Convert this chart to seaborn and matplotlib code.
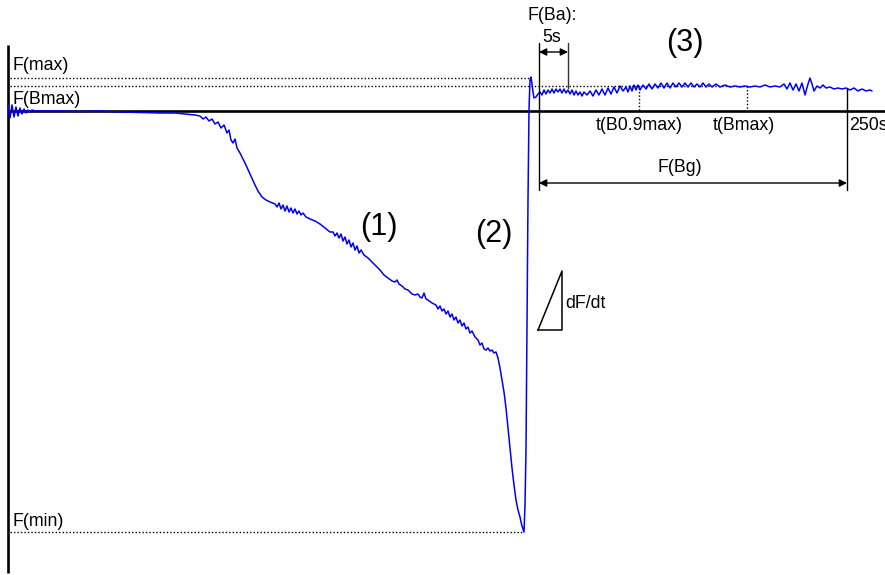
import matplotlib
matplotlib.use("Agg")
import matplotlib.pyplot as plt
import seaborn as sns

# Schematic fluorescence trace (x: time units, y: signal, top = high)
trace_x = [8, 10, 12, 14, 16, 18, 20, 22, 24, 26, 28, 30, 32, 35,
           40, 60, 80, 100, 120, 140, 160, 175, 185, 195,
           200, 203, 206, 209, 212, 215, 218, 221, 224, 227, 229, 231, 233, 235, 237, 240,
           245, 250, 255, 258, 262, 266, 270, 275,
           277, 279, 281, 283, 285, 287, 289, 291, 293, 295, 297, 299, 301, 303, 306,
           310, 315, 320, 325, 330, 333,
           335, 337, 339, 341, 343, 345, 347, 349, 351, 353, 355, 357, 359, 361, 364,
           368, 372, 376, 380, 384, 388, 392, 395, 397, 399, 402, 405, 408, 412, 415,
           418, 420, 422, 424, 426, 428, 432, 436,
           438, 440, 442, 444, 446, 448, 450, 452, 454, 456, 458, 460, 462, 464, 466,
           468, 470, 472, 475, 478, 480, 482, 484, 486, 488, 490, 492, 494, 496,
           498, 500, 502, 504, 506, 508, 510, 512, 514, 516, 518, 520, 521, 522, 523, 524,
           525, 526, 527, 528, 529, 530, 531,
           532, 533, 534, 536, 538, 540,
           542, 544, 546, 548, 550, 552, 554, 556, 558, 560, 562, 564, 566, 568, 570,
           572, 574, 576, 578, 580, 582, 584,
           587, 590, 593, 596, 599, 602, 605, 608, 611, 614, 617, 620, 623, 626,
           628, 630, 632, 634, 636, 638, 640, 643, 646, 649, 652, 655, 658, 661, 664,
           667, 670, 673, 676, 679, 682, 685, 688, 691, 694, 697, 700, 703, 706, 709,
           712, 716, 720, 725, 730, 735, 740, 745, 750, 755, 760, 765, 770, 775, 780,
           784, 787, 790, 793, 796, 799, 802, 805, 808, 810, 812, 814, 817, 820, 823,
           826, 830, 834, 838, 842, 846, 850, 854, 858, 862, 866, 870, 872]
trace_y = [104, 118, 105, 117, 107, 116, 108, 114, 109, 113, 110, 112, 110, 111,
           111, 111, 111.5, 111, 112, 112.5, 113, 113, 114, 115,
           116, 119, 117, 121, 119, 124, 122, 128, 125, 133, 130, 140, 143, 139, 148, 153,
           163, 174, 185, 191, 197, 200, 202, 204,
           207, 203, 209, 205, 211, 206, 212, 208, 213, 209, 214, 211, 215, 213, 217,
           219, 221, 224, 228, 232, 232,
           236, 233, 238, 234, 241, 237, 244, 240, 247, 243, 250, 246, 253, 250, 255,
           258, 262, 266, 270, 275, 278, 281, 282, 280, 284, 286, 289, 290, 294, 295,
           294, 297, 298, 293, 299, 300, 303, 305,
           309, 306, 311, 309, 314, 311, 317, 314, 320, 317, 323, 320, 326, 323, 329,
           327, 333, 331, 337, 340, 345, 343, 349, 350, 348, 351, 350, 353, 352,
           358, 368, 380, 392, 408, 428, 447, 468, 485, 500, 510, 517, 522, 526, 529, 532,
           505, 450, 330, 200, 110, 80, 77,
           84, 92, 98, 97, 94, 92,
           95, 90, 94, 90, 93, 89, 93, 89, 92, 89, 93, 89, 93, 90, 94,
           90, 95, 91, 95, 92, 96, 92,
           95, 91, 96, 90, 95, 89, 95, 88, 94, 87, 93, 86, 91, 87,
           92, 86, 91, 85, 90, 85, 90, 85, 89, 84, 89, 84, 88, 83, 88,
           83, 88, 83, 87, 83, 87, 83, 87, 83, 87, 84, 87, 83, 87, 84,
           87, 84, 87, 85, 87, 86, 87, 86, 87, 86, 87, 85, 87, 86, 87,
           84, 89, 83, 90, 84, 91, 83, 95, 84, 78, 84, 91, 86, 88, 85,
           88, 87, 89, 88, 89, 88, 90, 88, 91, 89, 91, 90, 91]

# characteristic levels and time marks
f_max = 78
f_bmax = 86
f_min = 532
baseline = 111
t_start = 539
t_5s = 568
t_b09 = 639
t_bmax = 747
t_end = 847
level_at_marks = [88, 88, 86, 88]

sns.set_style("white")
plt.rcParams["font.family"] = ["Liberation Sans", "DejaVu Sans"]
plt.rcParams["text.color"] = "black"

fig = plt.figure(figsize=(8.85, 5.75), dpi=100)
ax = fig.add_axes([0, 0, 1, 1])
ax.set_xlim(0, 885)
ax.set_ylim(575, 0)
ax.axis("off")

fs = 12.8

# axes of the schematic
ax.plot([8, 8], [45, 573], color="black", lw=1.9, solid_capstyle="butt")
ax.plot([8, 885], [baseline, baseline], color="black", lw=1.9, solid_capstyle="butt")

# dotted reference levels
dot = dict(color="black", lw=1.0, linestyle=(0, (1, 1.5)))
ax.plot([10, 531], [f_max, f_max], **dot)
ax.plot([10, t_bmax], [f_bmax, f_bmax], **dot)
ax.plot([10, 524], [f_min, f_min], **dot)
ax.plot([t_b09, t_b09], [level_at_marks[2] + 2, baseline], **dot)
ax.plot([t_bmax, t_bmax], [f_bmax, baseline], **dot)

# the trace
sns.lineplot(x=trace_x, y=trace_y, sort=False, estimator=None,
             color="#0000ff", lw=1.1, ax=ax)

# solid marker lines
ax.plot([t_start, t_start], [43, 190], color="black", lw=1.0)
ax.plot([t_5s, t_5s], [43, level_at_marks[1]], color="#333333", lw=1.0)
ax.plot([t_end, t_end], [level_at_marks[3], 190], color="black", lw=1.0)

arrow = dict(arrowstyle="<|-|>", color="black", lw=1.0, mutation_scale=11,
             shrinkA=0, shrinkB=0)
ax.annotate("", xy=(t_5s, 52), xytext=(t_start, 52), arrowprops=arrow)
ax.annotate("", xy=(t_end, 183), xytext=(t_start, 183), arrowprops=arrow)

# dF/dt triangle
ax.plot([538, 562, 562, 538], [330, 330, 271, 330], color="black", lw=1.1)

# labels
ax.text(13, 66, "F(max)", fontsize=fs, va="center", ha="left", color="black")
ax.text(13, 99, "F(Bmax)", fontsize=fs, va="center", ha="left", color="black")
ax.text(12, 521, "F(min)", fontsize=fs, va="center", ha="left", color="black")
ax.text(552, 16, "F(Ba):", fontsize=fs, va="center", ha="center", color="black")
ax.text(552, 38, "5s", fontsize=fs, va="center", ha="center", color="black")
ax.text(639, 126, "t(B0.9max)", fontsize=fs, va="center", ha="center", color="black")
ax.text(744, 126, "t(Bmax)", fontsize=fs, va="center", ha="center", color="black")
ax.text(849, 126, "250s", fontsize=fs, va="center", ha="left", color="black")
ax.text(680, 168, "F(Bg)", fontsize=fs, va="center", ha="center", color="black")
ax.text(565, 303, "dF/dt", fontsize=fs, va="center", ha="left", color="black")
ax.text(379, 227, "(1)", fontsize=22, va="center", ha="center", color="black")
ax.text(494, 234, "(2)", fontsize=22, va="center", ha="center", color="black")
ax.text(685, 43, "(3)", fontsize=22, va="center", ha="center", color="black")

fig.savefig("out.png", dpi=100)
